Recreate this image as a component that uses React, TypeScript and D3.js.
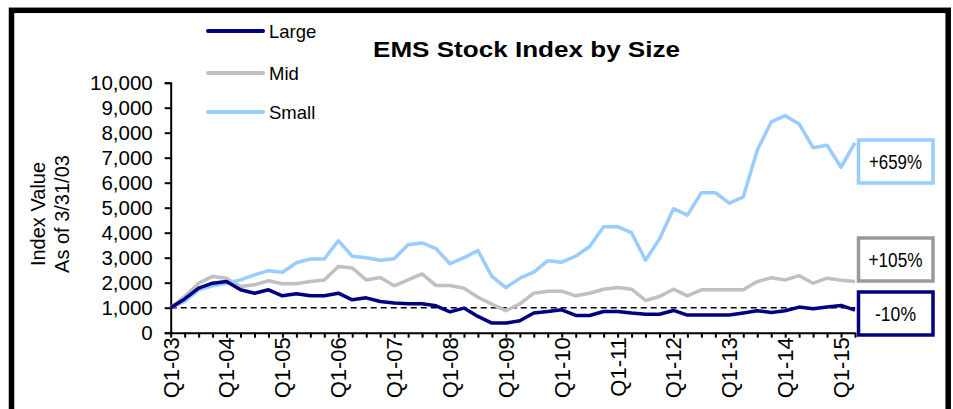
import React, { useEffect, useRef } from "react";
import * as d3 from "d3";

// Quarterly index values, Q1-03 .. Q2-15 (base 1,000 at 3/31/03)
const large = [
  1000, 1350, 1780, 1980, 2045, 1715, 1580, 1715, 1475, 1555,
  1475, 1475, 1580, 1315, 1395, 1250, 1185, 1155, 1155, 1075,
  835, 985, 650, 385, 385, 480, 785, 850, 915, 690,
  690, 850, 850, 785, 740, 740, 890, 705, 705, 705,
  705, 785, 877, 810, 877, 1025, 957, 1025, 1090, 900,
];
const mid = [
  1000, 1450, 1980, 2250, 2180, 1845, 1915, 2080, 1955, 1955,
  2045, 2110, 2650, 2590, 2110, 2205, 1875, 2110, 2350, 1885,
  1885, 1780, 1420, 1145, 880, 1155, 1580, 1660, 1660, 1475,
  1580, 1740, 1805, 1740, 1290, 1450, 1740, 1475, 1715, 1715,
  1715, 1715, 2045, 2200, 2110, 2280, 1980, 2180, 2100, 2050,
];
const small = [
  1000, 1250, 1715, 1875, 1980, 2110, 2310, 2480, 2420, 2800,
  2950, 2950, 3680, 3060, 3000, 2900, 2960, 3520, 3590, 3360,
  2760, 3000, 3290, 2250, 1800, 2180, 2420, 2880, 2820, 3060,
  3450, 4240, 4240, 4000, 2900, 3750, 4960, 4700, 5600, 5600,
  5180, 5430, 7300, 8430, 8680, 8350, 7400, 7500, 6620, 7590,
];
const yearLabels = [
  "Q1-03", "Q1-04", "Q1-05", "Q1-06", "Q1-07", "Q1-08", "Q1-09",
  "Q1-10", "Q1-11", "Q1-12", "Q1-13", "Q1-14", "Q1-15",
];
const yTicks = [0, 1000, 2000, 3000, 4000, 5000, 6000, 7000, 8000, 9000, 10000];
const seriesNames = ["Large", "Mid", "Small"];
const endLabels = ["-10%", "+105%", "+659%"];

const colors = ["#000080", "#c0c0c0", "#99ccff"];
const boxColors = ["#000080", "#999999", "#99ccff"];
const font = "'Liberation Sans', Arial, sans-serif";

export default function App() {
  const ref = useRef<SVGSVGElement>(null);

  useEffect(() => {
    const svg = d3.select(ref.current);
    svg.selectAll("*").remove();

    const x = d3.scaleLinear().domain([0, large.length - 1]).range([170.7, 855]);
    const y = d3.scaleLinear().domain([0, 10000]).range([332.7, 82.7]);

    // outer frame
    svg.append("rect")
      .attr("x", 11.5).attr("y", 10.3)
      .attr("width", 936.7).attr("height", 420)
      .attr("fill", "white")
      .attr("stroke", "black")
      .attr("stroke-width", 5.5);

    // title
    svg.append("text")
      .attr("x", 373).attr("y", 57)
      .attr("textLength", 307)
      .attr("lengthAdjust", "spacingAndGlyphs")
      .style("font-family", font)
      .style("font-size", "22px")
      .style("font-weight", "bold")
      .text("EMS Stock Index by Size");

    // y axis
    const yAxis = svg.append("g")
      .attr("transform", `translate(${x(0)},0)`)
      .call(d3.axisLeft(y).tickValues(yTicks).tickSize(6).tickPadding(12).tickFormat(d3.format(",")));
    yAxis.select(".domain").attr("stroke-width", 2);
    yAxis.selectAll(".tick line").attr("stroke-width", 2);
    yAxis.selectAll("text")
      .style("font-family", font)
      .style("font-size", "20.5px")
      .attr("fill", "black");

    // x axis with quarterly ticks
    const xAxis = svg.append("g")
      .attr("transform", `translate(0,${y(0)})`)
      .call(d3.axisBottom(x).tickValues(d3.range(large.length)).tickSize(5).tickSizeOuter(0).tickFormat(() => ""));
    xAxis.select(".domain").attr("stroke-width", 2);
    xAxis.selectAll(".tick line").attr("stroke-width", 2);

    svg.append("g")
      .selectAll("text")
      .data(yearLabels)
      .join("text")
      .attr("transform", (d, i) => `translate(${x(i * 4)},${y(0) + 4.5}) rotate(-90)`)
      .attr("text-anchor", "end")
      .attr("dy", "0.36em")
      .style("font-family", font)
      .style("font-size", "22px")
      .text(d => d);

    // y axis title
    const yTitle = svg.append("text")
      .attr("transform", "translate(0,214) rotate(-90)")
      .attr("text-anchor", "middle")
      .style("font-family", font)
      .style("font-size", "20px");
    yTitle.append("tspan").attr("x", 0).attr("y", 45).text("Index Value");
    yTitle.append("tspan").attr("x", 0).attr("y", 69).text("As of 3/31/03");

    // base line at 1,000
    svg.append("line")
      .attr("x1", x(0)).attr("x2", x(large.length - 1))
      .attr("y1", y(1000)).attr("y2", y(1000))
      .attr("stroke", "black")
      .attr("stroke-width", 1.5)
      .attr("stroke-dasharray", "6,4");

    const line = d3.line<number>().x((d, i) => x(i)).y(d => y(d));
    [mid, small, large].forEach(s => {
      const idx = s === large ? 0 : s === mid ? 1 : 2;
      svg.append("path")
        .datum(s)
        .attr("d", line)
        .attr("fill", "none")
        .attr("stroke", colors[idx])
        .attr("stroke-width", 3.5)
        .attr("stroke-linejoin", "round");
    });

    // legend
    const legendY = [31, 73, 112];
    seriesNames.forEach((name, i) => {
      svg.append("line")
        .attr("x1", 208).attr("x2", 263)
        .attr("y1", legendY[i]).attr("y2", legendY[i])
        .attr("stroke", colors[i])
        .attr("stroke-width", 4)
        .attr("stroke-linecap", "round");
      svg.append("text")
        .attr("x", 269).attr("y", legendY[i] + 6.5)
        .style("font-family", font)
        .style("font-size", "18.5px")
        .text(name);
    });

    // end-value boxes
    const boxTop = [292, 238, 140];
    const labelWidth = [41, 54, 53];
    endLabels.forEach((lab, i) => {
      svg.append("rect")
        .attr("x", 858.5).attr("y", boxTop[i])
        .attr("width", 74.5).attr("height", 43)
        .attr("fill", "white")
        .attr("stroke", boxColors[i])
        .attr("stroke-width", 3.5);
      svg.append("text")
        .attr("x", 895.5 - labelWidth[i] / 2).attr("y", boxTop[i] + 29)
        .attr("textLength", labelWidth[i])
        .attr("lengthAdjust", "spacingAndGlyphs")
        .style("font-family", font)
        .style("font-size", "20px")
        .text(lab);
    });
  }, []);

  return (
    <svg
      ref={ref}
      width={953}
      height={409}
      style={{ position: "absolute", left: 0, top: 0, background: "white" }}
    />
  );
}
